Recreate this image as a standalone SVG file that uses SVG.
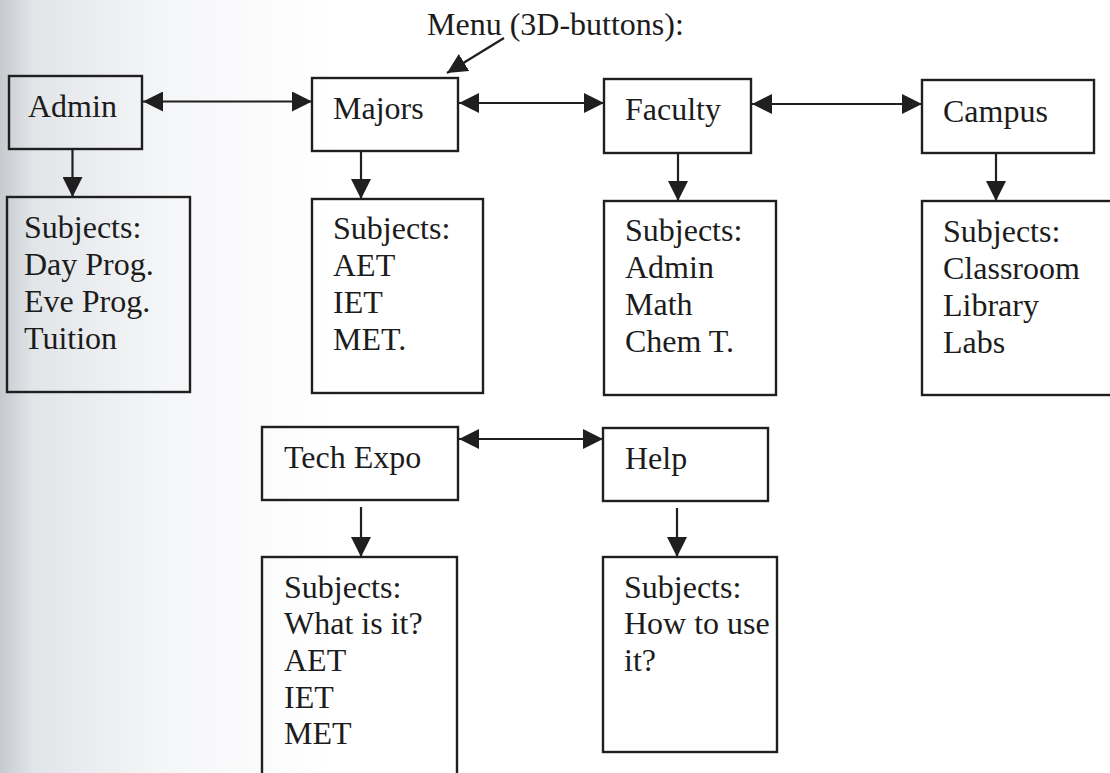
<svg xmlns="http://www.w3.org/2000/svg" width="1110" height="773" viewBox="0 0 1110 773">
  <style>
    .box { fill: none; stroke: #1f1f1f; stroke-width: 2.4; }
    .lbl { font-family: "Liberation Serif", "Times New Roman", serif; font-size: 32px; fill: #1c1c1c; }
    .conn { stroke: #1f1f1f; stroke-width: 2.2; fill: none; }
  </style>
  <defs>
    <linearGradient id="paper" x1="0" y1="0" x2="1" y2="0">
      <stop offset="0" stop-color="#c6cacf"/>
      <stop offset="0.03" stop-color="#e2e5e8"/>
      <stop offset="0.15" stop-color="#f5f6f8"/>
      <stop offset="0.3" stop-color="#ffffff"/>
    </linearGradient>
    <marker id="head" viewBox="0 0 20 20" refX="20" refY="10" markerWidth="20" markerHeight="20" markerUnits="userSpaceOnUse" orient="auto-start-reverse">
      <path d="M0,0 L20,10 L0,20 z" fill="#1f1f1f"/>
    </marker>
  </defs>

  <!-- page -->
  <rect x="0" y="0" width="1110" height="773" fill="url(#paper)"/>

  <!-- caption with pointer -->
  <g id="menu-caption">
    <text class="lbl" x="427" y="35">Menu (3D-buttons):</text>
  </g>

  <!-- connectors -->
  <g id="connectors">
    <line class="conn" x1="504" y1="38" x2="447" y2="73" marker-end="url(#head)"/>
    <line class="conn" x1="143" y1="101.5" x2="312" y2="101.5" marker-start="url(#head)" marker-end="url(#head)"/>
    <line class="conn" x1="459" y1="103" x2="604" y2="103" marker-start="url(#head)" marker-end="url(#head)"/>
    <line class="conn" x1="752" y1="104" x2="922" y2="104" marker-start="url(#head)" marker-end="url(#head)"/>
    <line class="conn" x1="459" y1="439" x2="603" y2="439" marker-start="url(#head)" marker-end="url(#head)"/>
    <line class="conn" x1="72.5" y1="149" x2="72.5" y2="197" marker-end="url(#head)"/>
    <line class="conn" x1="361" y1="151" x2="361" y2="199" marker-end="url(#head)"/>
    <line class="conn" x1="678" y1="153" x2="678" y2="201" marker-end="url(#head)"/>
    <line class="conn" x1="996" y1="153" x2="996" y2="201" marker-end="url(#head)"/>
    <line class="conn" x1="361" y1="507" x2="361" y2="557" marker-end="url(#head)"/>
    <line class="conn" x1="677" y1="508" x2="677" y2="557" marker-end="url(#head)"/>
  </g>

  <!-- menu buttons -->
  <g id="admin">
    <rect class="box" x="9" y="76" width="133" height="73"/>
    <text class="lbl" x="28" y="117">Admin</text>
  </g>
  <g id="majors">
    <rect class="box" x="312" y="78" width="146" height="73"/>
    <text class="lbl" x="333" y="119">Majors</text>
  </g>
  <g id="faculty">
    <rect class="box" x="604" y="79" width="147" height="74"/>
    <text class="lbl" x="625" y="120">Faculty</text>
  </g>
  <g id="campus">
    <rect class="box" x="922" y="80" width="172" height="73"/>
    <text class="lbl" x="943" y="122">Campus</text>
  </g>
  <g id="tech-expo">
    <rect class="box" x="262" y="427" width="196" height="73"/>
    <text class="lbl" x="284" y="468">Tech Expo</text>
  </g>
  <g id="help">
    <rect class="box" x="603" y="428" width="165" height="73"/>
    <text class="lbl" x="625" y="469">Help</text>
  </g>

  <!-- subject lists -->
  <g id="admin-subjects">
    <rect class="box" x="7" y="197" width="183" height="195"/>
    <text class="lbl" x="24" y="238">Subjects:</text>
    <text class="lbl" x="24" y="275">Day Prog.</text>
    <text class="lbl" x="24" y="312">Eve Prog.</text>
    <text class="lbl" x="24" y="349">Tuition</text>
  </g>
  <g id="majors-subjects">
    <rect class="box" x="312" y="199" width="171" height="194"/>
    <text class="lbl" x="333" y="239">Subjects:</text>
    <text class="lbl" x="333" y="276">AET</text>
    <text class="lbl" x="333" y="313">IET</text>
    <text class="lbl" x="333" y="350">MET.</text>
  </g>
  <g id="faculty-subjects">
    <rect class="box" x="604" y="201" width="172" height="194"/>
    <text class="lbl" x="625" y="241">Subjects:</text>
    <text class="lbl" x="625" y="278">Admin</text>
    <text class="lbl" x="625" y="315">Math</text>
    <text class="lbl" x="625" y="352">Chem T.</text>
  </g>
  <g id="campus-subjects">
    <rect class="box" x="922" y="201" width="190" height="194"/>
    <text class="lbl" x="943" y="242">Subjects:</text>
    <text class="lbl" x="943" y="279">Classroom</text>
    <text class="lbl" x="943" y="316">Library</text>
    <text class="lbl" x="943" y="353">Labs</text>
  </g>
  <g id="tech-expo-subjects">
    <rect class="box" x="262" y="557" width="195" height="230"/>
    <text class="lbl" x="284" y="598">Subjects:</text>
    <text class="lbl" x="284" y="634">What is it?</text>
    <text class="lbl" x="284" y="671">AET</text>
    <text class="lbl" x="284" y="708">IET</text>
    <text class="lbl" x="284" y="744">MET</text>
  </g>
  <g id="help-subjects">
    <rect class="box" x="603" y="557" width="174" height="195"/>
    <text class="lbl" x="624" y="598">Subjects:</text>
    <text class="lbl" x="624" y="634">How to use</text>
    <text class="lbl" x="624" y="671">it?</text>
  </g>
</svg>
